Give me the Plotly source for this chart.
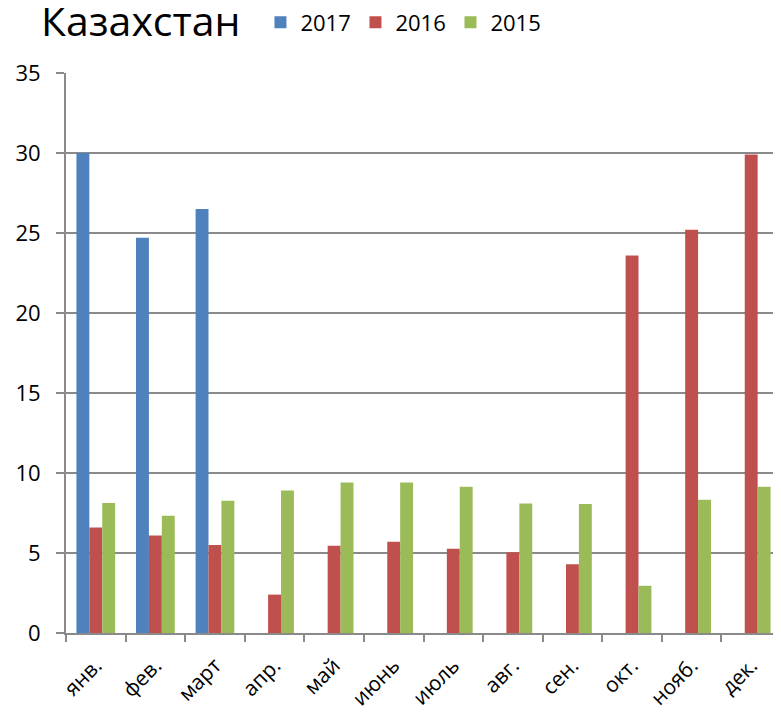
import plotly.graph_objects as go

months = ["янв.", "фев.", "март", "апр.", "май", "июнь", "июль", "авг.", "сен.", "окт.", "нояб.", "дек."]
y2017 = [30.0, 24.7, 26.5, None, None, None, None, None, None, None, None, None]
y2016 = [6.6, 6.1, 5.5, 2.4, 5.45, 5.7, 5.27, 5.05, 4.3, 23.6, 25.2, 29.9]
y2015 = [8.12, 7.33, 8.27, 8.9, 9.4, 9.4, 9.14, 8.1, 8.06, 2.95, 8.33, 9.14]
series_names = ["2017", "2016", "2015"]
colors = ["#4F81BD", "#C0504D", "#9BBB59"]
yticks = [0, 5, 10, 15, 20, 25, 30, 35]

FONT = "Open Sans, Noto Sans, sans-serif"

fig = go.Figure()
for name, vals, col in zip(series_names, [y2017, y2016, y2015], colors):
    fig.add_trace(go.Bar(x=months, y=vals, name=name, marker=dict(color=col, line=dict(width=0))))

# the page body has an 8px margin, so the figure is sized to the visible area
fig.update_layout(
    width=773, height=704,
    paper_bgcolor="white", plot_bgcolor="white",
    margin=dict(l=58, r=0, t=65, b=79, autoexpand=False),
    barmode="group", bargap=0.35, bargroupgap=0,
    font=dict(family=FONT, color="black", size=20),
    title=dict(text="Казахстан", x=0.0427, xanchor="left", y=0.9808, yanchor="middle",
               xref="container", yref="container", pad=dict(l=0, r=0, t=0, b=0),
               font=dict(size=41, family=FONT, color="black")),
    showlegend=True,
    legend=dict(orientation="h", xref="container", yref="container",
                x=0.3266, xanchor="left", y=0.9794, yanchor="middle",
                font=dict(size=22, family=FONT), itemwidth=30, tracegroupgap=0,
                entrywidth=50, entrywidthmode="pixels",
                bgcolor="rgba(0,0,0,0)"),
)
fig.update_yaxes(range=[0, 35], tickvals=yticks, showgrid=True, gridcolor="#8A8A8A", gridwidth=1.5,
                 showline=True, linecolor="#8A8A8A", linewidth=2, ticks="outside", ticklen=8,
                 tickcolor="#8A8A8A", tickwidth=1.5, tickfont=dict(size=22), zeroline=False,
                 ticklabelstandoff=11, automargin=False, fixedrange=True)
fig.update_xaxes(tickangle=-45, showline=True, linecolor="#8A8A8A", linewidth=2, ticks="outside",
                 tickson="boundaries", ticklen=7, tickcolor="#8A8A8A", tickwidth=2,
                 tickfont=dict(size=21), showgrid=False, ticklabelstandoff=10, automargin=False)

fig.write_html("out.html")
